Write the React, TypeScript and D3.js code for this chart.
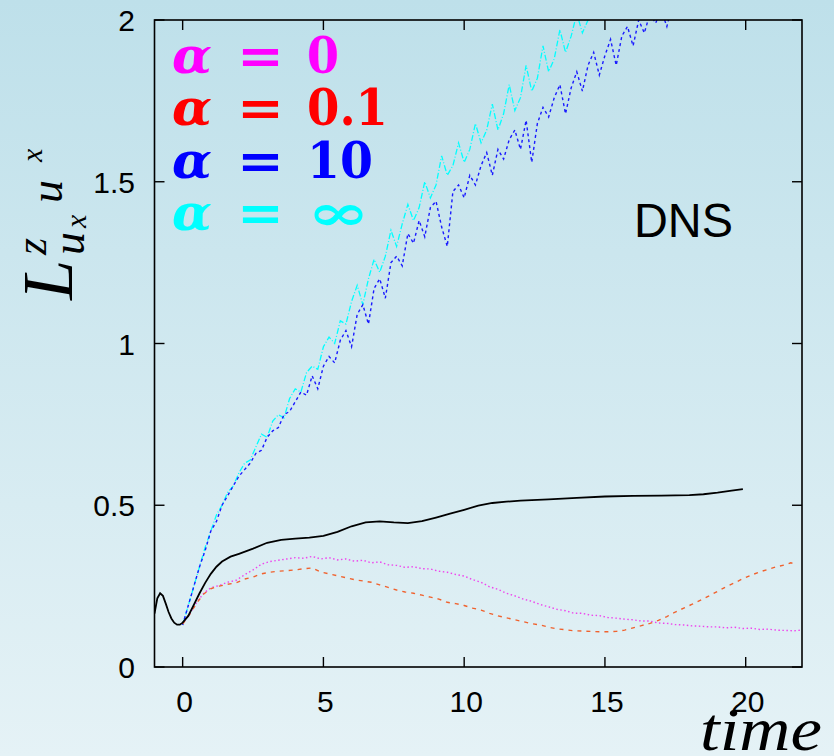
import React from "react";
import * as d3 from "d3";

const W = 834;
const H = 756;

// x tick values and y tick values
const xTicks = [0, 5, 10, 15, 20];
const yTicks = [0, 0.5, 1, 1.5, 2];
const yTickLabels = ["0", "0.5", "1", "1.5", "2"];

// DNS (black, solid)
const dnsData: [number, number][] = [
  [-1, 0.165], [-0.9, 0.212], [-0.8, 0.228], [-0.7, 0.22], [-0.6, 0.196], [-0.5, 0.17],
  [-0.4, 0.15], [-0.3, 0.137], [-0.2, 0.131], [-0.1, 0.131], [0, 0.137], [0.2, 0.158],
  [0.4, 0.193], [0.6, 0.228], [0.8, 0.26], [1.0, 0.288], [1.2, 0.31], [1.4, 0.326],
  [1.7, 0.341], [2.0, 0.35], [2.5, 0.366], [3.0, 0.384], [3.5, 0.393], [4.0, 0.397],
  [4.5, 0.4], [5.0, 0.405], [5.5, 0.418], [6.0, 0.435], [6.5, 0.447], [7.0, 0.45],
  [7.5, 0.447], [8.0, 0.445], [8.5, 0.451], [9.0, 0.462], [9.5, 0.474], [10.0, 0.486],
  [10.5, 0.499], [11.0, 0.507], [11.5, 0.511], [12, 0.514], [13, 0.518], [14, 0.523],
  [15, 0.527], [16, 0.529], [17, 0.53], [18, 0.531], [18.5, 0.534], [19, 0.539],
  [19.5, 0.545], [19.9, 0.55],
];

// alpha = 0 (magenta, dotted)
const alpha0Data: [number, number][] = [
  [0, 0.133], [0.25, 0.165], [0.5, 0.2], [0.75, 0.228], [1.0, 0.245], [1.3, 0.252],
  [1.6, 0.262], [1.9, 0.268], [2.2, 0.285], [2.5, 0.3], [2.8, 0.318], [3.1, 0.326],
  [3.4, 0.33], [3.7, 0.334], [4.0, 0.338], [4.3, 0.336], [4.6, 0.342], [4.9, 0.334],
  [5.2, 0.338], [5.5, 0.331], [5.8, 0.334], [6.1, 0.327], [6.4, 0.33], [6.7, 0.322],
  [7.0, 0.325], [7.3, 0.316], [7.6, 0.314], [7.9, 0.308], [8.2, 0.31], [8.5, 0.304],
  [8.8, 0.303], [9.1, 0.296], [9.4, 0.293], [9.7, 0.286], [10.0, 0.281], [10.3, 0.27],
  [10.6, 0.262], [10.9, 0.248], [11.2, 0.24], [11.5, 0.228], [11.8, 0.22], [12.1, 0.21],
  [12.4, 0.203], [12.7, 0.193], [13.0, 0.186], [13.3, 0.178], [13.6, 0.174], [13.9, 0.166],
  [14.2, 0.166], [14.5, 0.16], [14.8, 0.159], [15.1, 0.153], [15.4, 0.151], [15.7, 0.148],
  [16.0, 0.146], [16.3, 0.142], [16.6, 0.142], [16.9, 0.136], [17.2, 0.135], [17.5, 0.131],
  [17.8, 0.13], [18.1, 0.127], [18.4, 0.126], [18.7, 0.124], [19.0, 0.124], [19.3, 0.121],
  [19.6, 0.123], [19.9, 0.119], [20.2, 0.12], [20.5, 0.116], [20.8, 0.117], [21.1, 0.114],
  [21.4, 0.113], [21.7, 0.112], [22.0, 0.114],
];

// alpha = 0.1 (red, dashed)
const alpha01Data: [number, number][] = [
  [0, 0.133], [0.25, 0.163], [0.5, 0.198], [0.75, 0.226], [1.0, 0.242], [1.3, 0.25],
  [1.6, 0.256], [1.9, 0.26], [2.2, 0.272], [2.5, 0.278], [2.8, 0.288], [3.1, 0.293],
  [3.4, 0.296], [3.7, 0.298], [4.0, 0.3], [4.3, 0.304], [4.6, 0.306], [4.9, 0.294],
  [5.2, 0.288], [5.5, 0.282], [5.8, 0.276], [6.1, 0.27], [6.4, 0.266], [6.7, 0.262],
  [7.0, 0.254], [7.3, 0.246], [7.6, 0.238], [7.9, 0.232], [8.2, 0.228], [8.5, 0.222],
  [8.8, 0.216], [9.1, 0.21], [9.4, 0.2], [9.7, 0.196], [10.0, 0.19], [10.3, 0.182],
  [10.6, 0.176], [10.9, 0.166], [11.2, 0.158], [11.5, 0.152], [11.8, 0.146], [12.1, 0.14],
  [12.4, 0.134], [12.7, 0.13], [13.0, 0.123], [13.3, 0.118], [13.6, 0.115], [13.9, 0.112],
  [14.2, 0.111], [14.5, 0.11], [14.8, 0.109], [15.1, 0.109], [15.4, 0.11], [15.7, 0.114],
  [16.0, 0.121], [16.3, 0.128], [16.6, 0.135], [16.9, 0.144], [17.2, 0.156], [17.5, 0.17],
  [17.8, 0.182], [18.1, 0.194], [18.4, 0.207], [18.7, 0.22], [19.0, 0.234], [19.3, 0.248],
  [19.6, 0.26], [19.9, 0.273], [20.2, 0.284], [20.5, 0.294], [20.8, 0.302], [21.1, 0.31],
  [21.4, 0.316], [21.6, 0.322], [21.8, 0.318],
];

// alpha = 10 (blue, dashed, noisy)
const alpha10Data: [number, number][] = [
  [0.0, 0.13], [0.2, 0.19], [0.4, 0.25], [0.6, 0.31], [0.8, 0.36], [1.0, 0.42], [1.2, 0.45],
  [1.4, 0.5], [1.6, 0.53], [1.8, 0.56], [2.0, 0.59], [2.2, 0.61], [2.4, 0.63], [2.6, 0.66],
  [2.8, 0.67], [3.0, 0.71], [3.2, 0.73], [3.4, 0.74], [3.6, 0.78], [3.8, 0.79], [4.0, 0.82],
  [4.2, 0.85], [4.4, 0.84], [4.6, 0.9], [4.8, 0.86], [5.0, 0.93], [5.2, 0.96], [5.4, 0.94],
  [5.6, 1.01], [5.8, 1.04], [6.0, 0.99], [6.2, 1.09], [6.4, 1.12], [6.6, 1.06], [6.8, 1.17],
  [7.0, 1.2], [7.2, 1.14], [7.4, 1.25], [7.6, 1.27], [7.8, 1.24], [8.0, 1.34], [8.2, 1.31],
  [8.4, 1.38], [8.6, 1.33], [8.8, 1.42], [9.0, 1.44], [9.2, 1.36], [9.4, 1.3], [9.6, 1.47],
  [9.8, 1.49], [10.0, 1.45], [10.2, 1.52], [10.4, 1.49], [10.6, 1.55], [10.8, 1.59],
  [11.0, 1.52], [11.2, 1.6], [11.4, 1.57], [11.6, 1.63], [11.8, 1.66], [12.0, 1.6],
  [12.2, 1.69], [12.4, 1.56], [12.6, 1.68], [12.8, 1.73], [13.0, 1.7], [13.2, 1.76],
  [13.4, 1.8], [13.6, 1.71], [13.8, 1.79], [14.0, 1.84], [14.2, 1.78], [14.4, 1.86],
  [14.6, 1.9], [14.8, 1.83], [15.0, 1.89], [15.2, 1.94], [15.4, 1.86], [15.6, 1.95],
  [15.8, 1.98], [16.0, 1.92], [16.2, 2.0], [16.4, 1.96], [16.6, 2.02], [16.8, 1.99],
  [17.0, 2.03], [17.2, 1.98], [17.4, 2.05],
];

// alpha = infinity (cyan, noisy)
const alphaInfData: [number, number][] = [
  [0.0, 0.13], [0.2, 0.19], [0.4, 0.25], [0.6, 0.31], [0.8, 0.37], [1.0, 0.42], [1.2, 0.47],
  [1.4, 0.5], [1.6, 0.54], [1.8, 0.56], [2.0, 0.6], [2.2, 0.63], [2.4, 0.64], [2.6, 0.68],
  [2.8, 0.72], [3.0, 0.71], [3.2, 0.76], [3.4, 0.78], [3.6, 0.77], [3.8, 0.83], [4.0, 0.86],
  [4.2, 0.85], [4.4, 0.91], [4.6, 0.93], [4.8, 0.92], [5.0, 0.99], [5.2, 1.02], [5.4, 1.0],
  [5.6, 1.07], [5.8, 1.06], [6.0, 1.13], [6.2, 1.18], [6.4, 1.12], [6.6, 1.2], [6.8, 1.26],
  [7.0, 1.22], [7.2, 1.27], [7.4, 1.35], [7.6, 1.3], [7.8, 1.37], [8.0, 1.43], [8.2, 1.38],
  [8.4, 1.42], [8.6, 1.5], [8.8, 1.45], [9.0, 1.49], [9.2, 1.58], [9.4, 1.52], [9.6, 1.55],
  [9.8, 1.62], [10.0, 1.56], [10.2, 1.6], [10.4, 1.68], [10.6, 1.62], [10.8, 1.66],
  [11.0, 1.74], [11.2, 1.66], [11.4, 1.71], [11.6, 1.8], [11.8, 1.72], [12.0, 1.76],
  [12.2, 1.86], [12.4, 1.78], [12.6, 1.82], [12.8, 1.92], [13.0, 1.84], [13.2, 1.88],
  [13.4, 1.97], [13.6, 1.9], [13.8, 1.95], [14.0, 2.02], [14.2, 1.96], [14.4, 2.0],
  [14.6, 2.06], [14.8, 2.01], [15.0, 2.05],
];

const legendLabels = ["0", "0.1", "10", "\u221E"];
const legendColors = ["#ff00ff", "#ff0000", "#0000ff", "#00ffff"];
const legendWidths = [32, 81, 66, 63];

export default function App() {
  const x = d3.scaleLinear().domain([-1, 22]).range([154.5, 802]);
  const y = d3.scaleLinear().domain([0, 2]).range([667, 20]);
  const line = d3
    .line<[number, number]>()
    .x((d) => x(d[0]))
    .y((d) => y(d[1]));

  const x0 = x(-1);
  const x1 = x(22);
  const y0 = y(0);
  const y1 = y(2);
  const tickLen = 10;
  const sans = "'Liberation Sans', Arial, Helvetica, sans-serif";
  const serif = "'Liberation Serif', 'Times New Roman', serif";

  return (
    <svg
      width={W}
      height={H}
      style={{ position: "absolute", left: 0, top: 0 }}
      xmlns="http://www.w3.org/2000/svg"
    >
      <defs>
        <linearGradient id="bg" x1="0" y1="0" x2="0" y2="1">
          <stop offset="0" stopColor="#bee0ea" />
          <stop offset="1" stopColor="#e5f2f6" />
        </linearGradient>
        <clipPath id="plot">
          <rect x={x0} y={y1} width={x1 - x0} height={y0 - y1} />
        </clipPath>
      </defs>
      <rect x={0} y={0} width={W} height={H} fill="url(#bg)" />

      {/* data lines */}
      <g clipPath="url(#plot)" fill="none">
        <path d={line(alphaInfData) || ""} stroke="#00ffff" strokeWidth={1.3} strokeDasharray="6,2,1,2" />
        <path d={line(alpha10Data) || ""} stroke="#1a1aff" strokeWidth={1.4} strokeDasharray="3,3" />
        <path d={line(alpha0Data) || ""} stroke="#ee44ee" strokeWidth={1.4} strokeDasharray="1.5,2.5" />
        <path d={line(alpha01Data) || ""} stroke="#f0622e" strokeWidth={1.4} strokeDasharray="4,5" />
        <path d={line(dnsData) || ""} stroke="#000" strokeWidth={1.8} />
      </g>

      {/* frame */}
      <rect x={x0} y={y1} width={x1 - x0} height={y0 - y1} fill="none" stroke="#000" strokeWidth={1.6} />

      {/* x ticks */}
      {xTicks.map((t) => (
        <g key={"xt" + t}>
          <line x1={x(t)} x2={x(t)} y1={y0} y2={y0 - tickLen} stroke="#000" strokeWidth={1.4} />
          <line x1={x(t)} x2={x(t)} y1={y1} y2={y1 + tickLen} stroke="#000" strokeWidth={1.4} />
          <text x={x(t) + 2} y={712} textAnchor="middle" fontFamily={sans} fontSize={30} fill="#000">
            {String(t)}
          </text>
        </g>
      ))}

      {/* y ticks */}
      {yTicks.map((t, i) => (
        <g key={"yt" + t}>
          <line x1={x0} x2={x0 + tickLen} y1={y(t)} y2={y(t)} stroke="#000" strokeWidth={1.4} />
          <line x1={x1} x2={x1 - tickLen} y1={y(t)} y2={y(t)} stroke="#000" strokeWidth={1.4} />
          <text x={135} y={y(t) + 11} textAnchor="end" fontFamily={sans} fontSize={30} fill="#000">
            {yTickLabels[i]}
          </text>
        </g>
      ))}

      {/* legend */}
      {legendLabels.map((lab, i) => {
        const by = 73 + i * 52.3;
        return (
          <g key={"lg" + i} fill={legendColors[i]}>
            <text x={172} y={by} fontFamily="'DejaVu Serif', serif" fontWeight="bold" fontStyle="italic" fontSize={50} textLength={40} lengthAdjust="spacingAndGlyphs">
              α
            </text>
            <text x={237} y={by} fontFamily="'DejaVu Serif', serif" fontWeight="bold" fontSize={50} textLength={47} lengthAdjust="spacingAndGlyphs">
              =
            </text>
            <text x={307} y={by} fontFamily="'DejaVu Serif', serif" fontWeight="bold" fontSize={50} textLength={legendWidths[i]} lengthAdjust="spacingAndGlyphs">
              {lab}
            </text>
          </g>
        );
      })}

      {/* DNS label */}
      <text x={634} y={237} fontFamily={sans} fontSize={48} fill="#000" textLength={99} lengthAdjust="spacingAndGlyphs">
        DNS
      </text>

      {/* x axis label */}
      <text x={700} y={750} fontFamily={serif} fontStyle="italic" fontSize={62} fill="#000" textLength={122} lengthAdjust="spacingAndGlyphs">
        time
      </text>

      {/* y axis label, rotated */}
      <g transform="translate(72,300) rotate(-90)" fill="#000" fontFamily={serif} fontStyle="italic">
        <text x={0} y={0} fontSize={72}>L</text>
        <text x={45} y={-26} fontSize={44}>z</text>
        <text x={45} y={12} fontSize={46}>u</text>
        <text x={72} y={14} fontSize={30}>x</text>
        <text x={97} y={-10} fontSize={46}>u</text>
        <text x={138} y={-30} fontSize={30}>x</text>
      </g>
    </svg>
  );
}
